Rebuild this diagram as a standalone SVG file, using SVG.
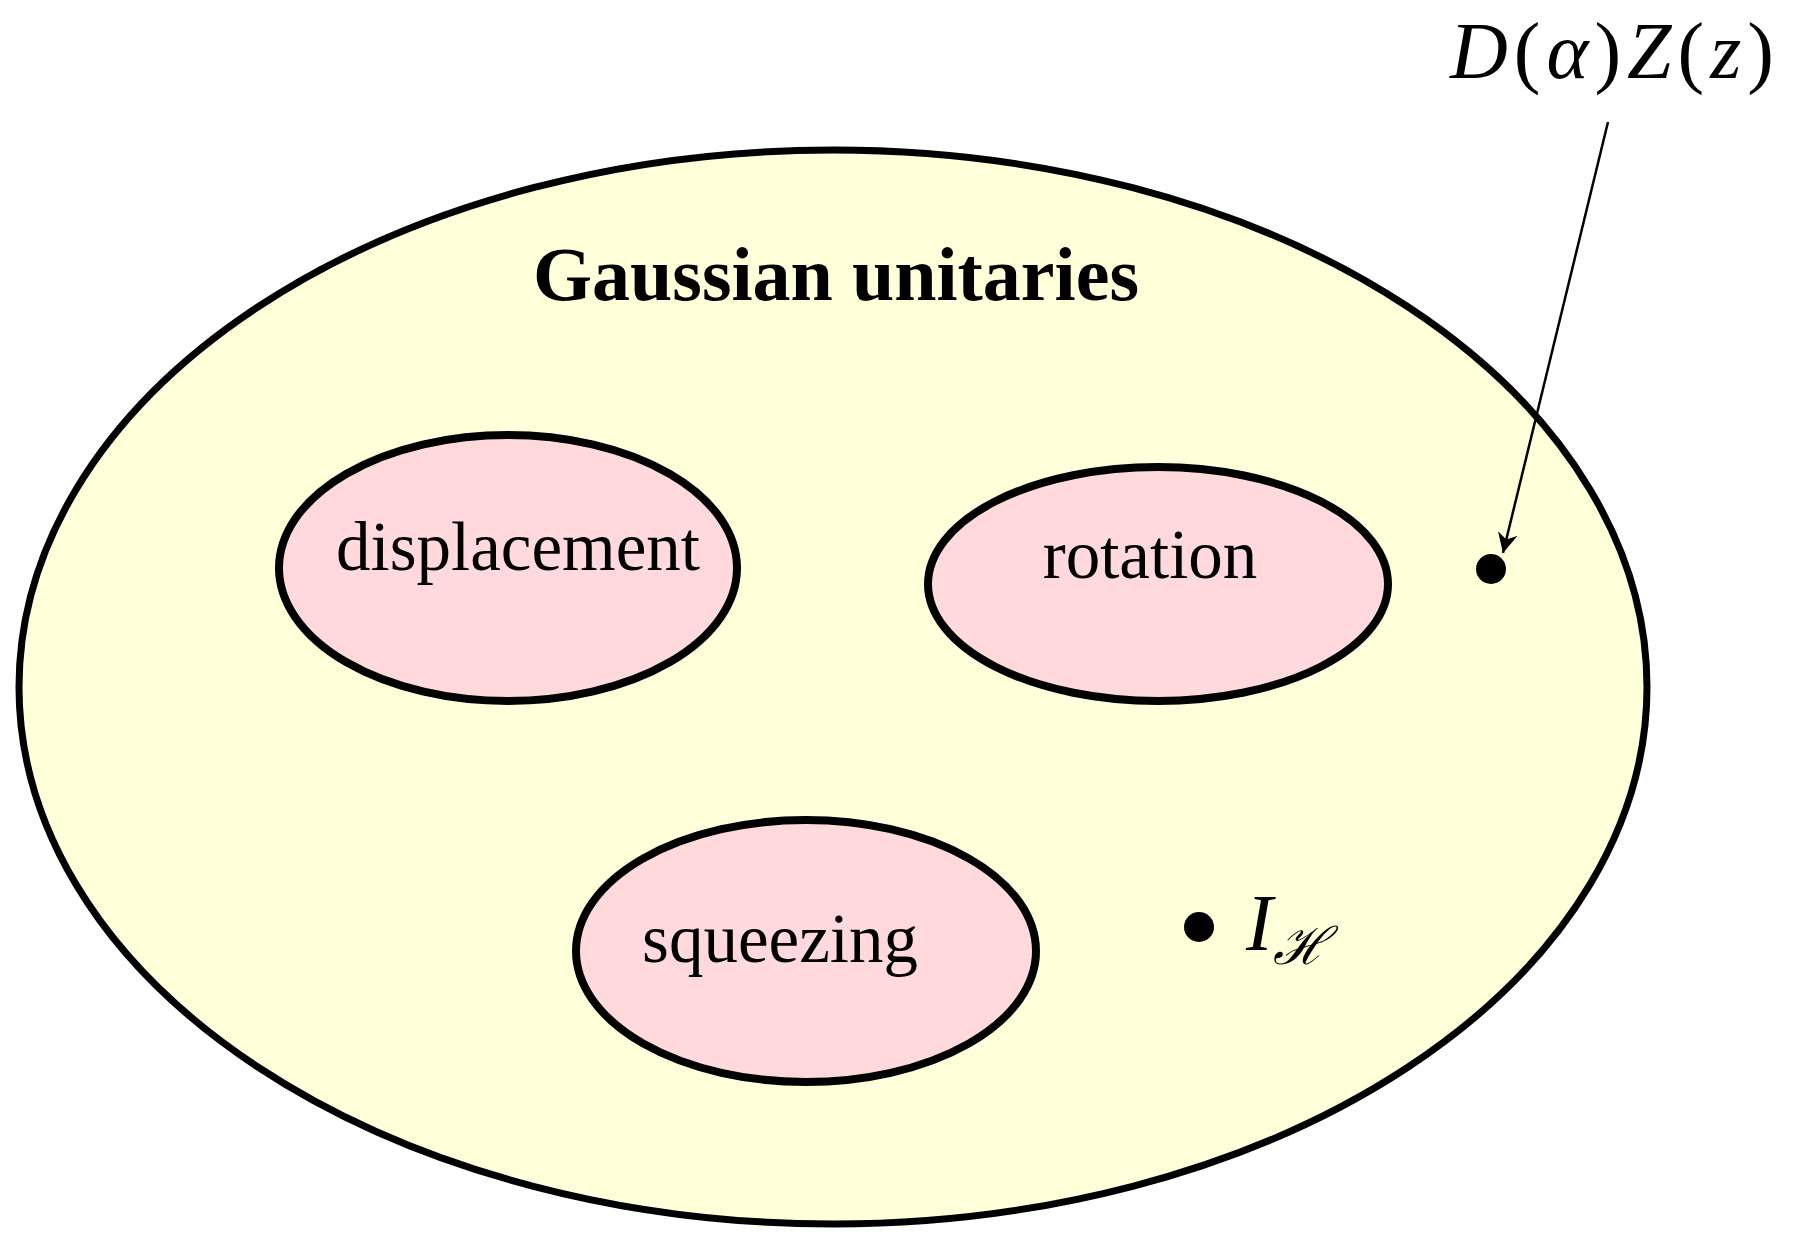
<svg xmlns="http://www.w3.org/2000/svg" width="1795" height="1255" viewBox="0 0 1795 1255">
<style>
.big{fill:#ffffd9;stroke:#000;stroke-width:7}
.sub{fill:#ffd9dc;stroke:#000;stroke-width:8}
.lbl{font-family:"Liberation Serif",serif;font-size:69px;text-anchor:middle;fill:#000}
.math{font-family:"Liberation Serif",serif;font-style:italic;font-size:80px;fill:#000}
</style>
<defs>
<marker id="ah" markerWidth="20" markerHeight="20" refX="10" refY="5" orient="auto" markerUnits="userSpaceOnUse" viewBox="0 0 10 10">
<path d="M0,0 L10,5 L0,10 L3,5 Z" fill="#000"/>
</marker>
</defs>
<g id="gaussian"><ellipse class="big" cx="833" cy="687" rx="814" ry="537"/>
<text x="836" y="300" style="font-family:'Liberation Serif',serif;font-weight:bold;font-size:76px;text-anchor:middle">Gaussian unitaries</text></g>
<g id="displacement"><ellipse class="sub" cx="508" cy="568" rx="229" ry="133"/><text class="lbl" x="518" y="570">displacement</text></g>
<g id="rotation"><ellipse class="sub" cx="1158" cy="584" rx="230" ry="117"/><text class="lbl" x="1150" y="578">rotation</text></g>
<g id="squeezing"><ellipse class="sub" cx="806" cy="951" rx="230" ry="131"/><text class="lbl" x="780" y="962">squeezing</text></g>
<g id="dz"><circle cx="1491" cy="569" r="15"/><text class="math" x="1780" y="78" text-anchor="end" letter-spacing="6">D<tspan font-style="normal">(</tspan>α<tspan font-style="normal">)</tspan>Z<tspan font-style="normal">(</tspan>z<tspan font-style="normal">)</tspan></text></g>
<g id="identity"><circle cx="1199" cy="927" r="15"/><text class="math" x="1246" y="950">I<tspan font-size="52" dy="14" font-family="'DejaVu Serif',serif">ℋ</tspan></text></g>
<g id="connectors"><line x1="1608" y1="122" x2="1503" y2="553" stroke="#000" stroke-width="2.5" marker-end="url(#ah)"/></g>
</svg>
